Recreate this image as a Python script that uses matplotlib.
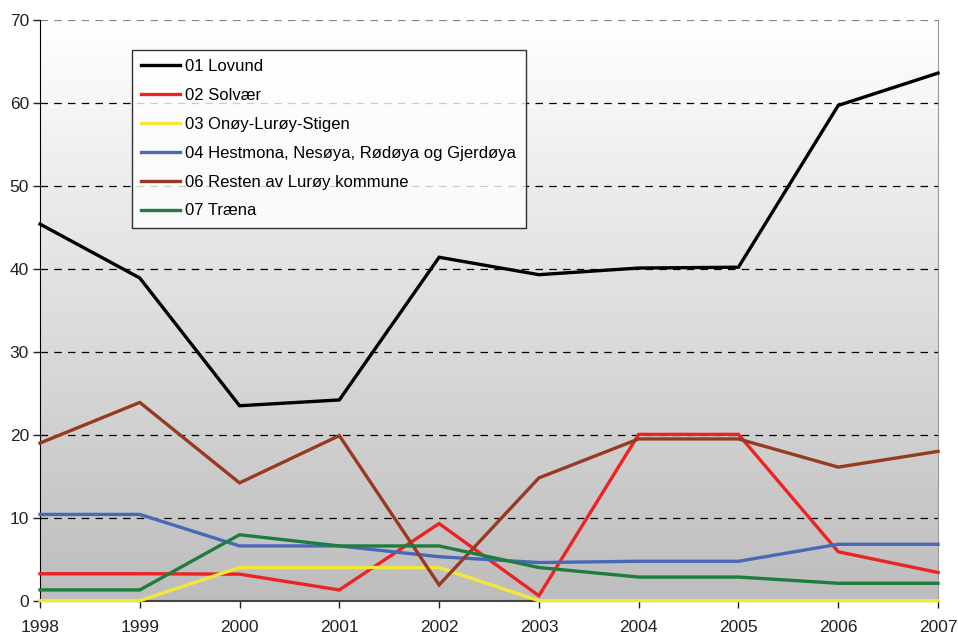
import matplotlib
matplotlib.use("Agg")
import matplotlib.pyplot as plt
import numpy as np
from matplotlib.colors import LinearSegmentedColormap

plt.rcParams['font.family'] = ['Liberation Sans', 'DejaVu Sans']

years = [1998, 1999, 2000, 2001, 2002, 2003, 2004, 2005, 2006, 2007]
lovund = [45.4, 38.9, 23.5, 24.2, 41.4, 39.3, 40.1, 40.2, 59.7, 63.6]
solvaer = [3.25, 3.25, 3.2, 1.3, 9.3, 0.6, 20.05, 20.05, 5.9, 3.4]
onoy = [0, 0, 4.0, 4.0, 4.0, 0, 0, 0, 0, 0]
hestmona = [10.4, 10.4, 6.6, 6.6, 5.3, 4.6, 4.75, 4.75, 6.8, 6.8]
resten = [19.0, 23.9, 14.2, 19.9, 1.9, 14.8, 19.5, 19.5, 16.1, 18.0]
traena = [1.3, 1.3, 7.95, 6.6, 6.6, 4.0, 2.85, 2.85, 2.1, 2.1]

series = [
    ("01 Lovund", lovund, "#000000"),
    ("02 Solvær", solvaer, "#ee2222"),
    ("03 Onøy-Lurøy-Stigen", onoy, "#f2e83a"),
    ("04 Hestmona, Nesøya, Rødøya og Gjerdøya", hestmona, "#4a68b8"),
    ("06 Resten av Lurøy kommune", resten, "#963a22"),
    ("07 Træna", traena, "#1e7d3c"),
]

fig = plt.figure(figsize=(9.58, 6.34), dpi=100)
ax = fig.add_axes([40/958, (634-600.7)/634, (938-40)/958, (600.7-20)/634])

# gradient background
cmap = LinearSegmentedColormap.from_list("bg", ["#ffffff", "#bdbdbd"])
grad = np.linspace(0, 1, 256).reshape(-1, 1)
ax.imshow(grad, aspect='auto', cmap=cmap, extent=[0, 1, 0, 1],
          transform=ax.transAxes, zorder=0, interpolation='bicubic')

ax.set_xlim(years[0], years[-1])
ax.set_ylim(0, 70)

for y in range(10, 70, 10):
    ax.axhline(y, color='#000000', lw=0.9, ls=(0, (6, 5)), zorder=1)
ax.axhline(70, color='#888888', lw=0.9, ls=(0, (6, 5)), zorder=1)

for label, vals, col in series:
    ax.plot(years, vals, color=col, lw=2.4, label=label, zorder=3,
            solid_joinstyle='miter', clip_on=False)

ax.set_xticks(years)
ax.set_xticklabels([str(y) for y in years])
ax.set_yticks(range(0, 71, 10))
ax.tick_params(axis='both', direction='out', length=5, width=1, labelsize=12.5,
               colors='#222222')
ax.tick_params(axis='x', pad=9)
ax.tick_params(axis='y', pad=3)

ax.spines['left'].set_color('#000000')
ax.spines['bottom'].set_color('#444444')
ax.spines['bottom'].set_linewidth(1.5)
ax.spines['top'].set_visible(False)
ax.spines['right'].set_color('#999999')

leg = ax.legend(loc='upper left', bbox_to_anchor=((132-40)/898, (600.7-50)/580.7),
                frameon=True, fancybox=False, edgecolor='#000000', fontsize=12,
                handlelength=2.35, handletextpad=0.3, labelspacing=0.83,
                borderpad=0.55, borderaxespad=0)
leg.get_frame().set_linewidth(1.0)
leg.get_frame().set_facecolor('#ffffff')
for l in leg.get_lines():
    l.set_linewidth(2.4)

fig.savefig("out.png", dpi=100)
